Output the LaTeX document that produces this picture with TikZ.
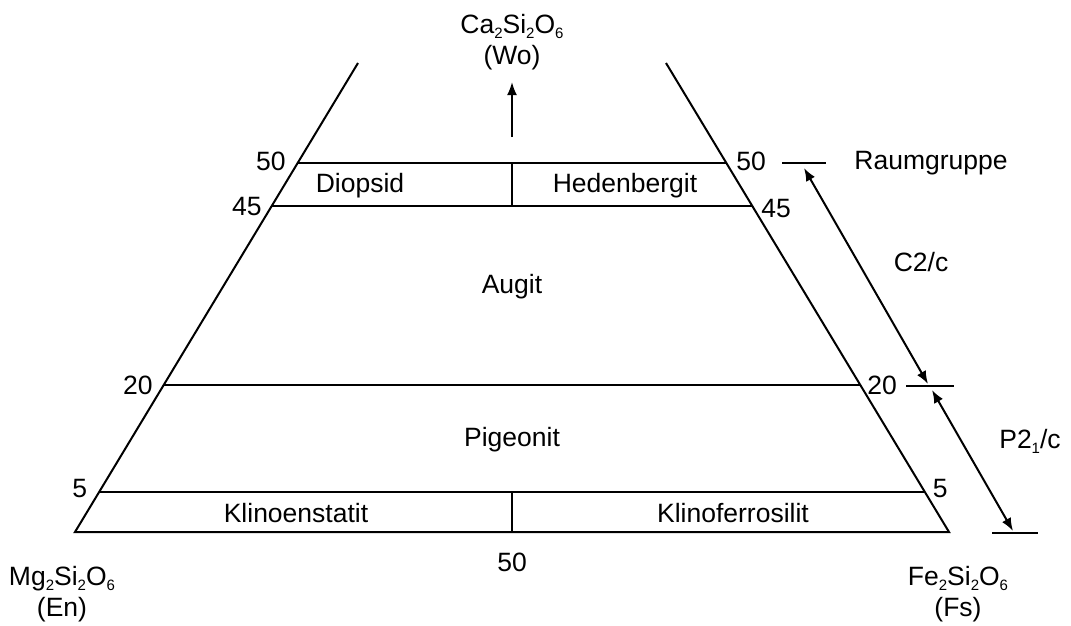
\documentclass[tikz,border=0pt]{standalone}
\usepackage{fontspec}
\setmainfont{Liberation Sans}
\usetikzlibrary{calc,arrows.meta}
\newcommand\chemsub[1]{\raisebox{-0.35ex}{\fontsize{15}{15}\selectfont#1}}
\begin{document}
\begin{tikzpicture}[x=1pt,y=-1pt,line width=2pt,
    every node/.style={font=\fontsize{26.5}{31}\selectfont,inner sep=0pt},
    region/.style={anchor=center},
    dimarrow/.style={{Latex[length=13pt,width=10pt]}-{Latex[length=13pt,width=10pt]}}]
  \useasboundingbox (0,0) rectangle (1071,626);
  % trapezoid
  \coordinate (bl) at (75,532);
  \coordinate (br) at (949,532);
  \coordinate (tl) at (358,63);
  \coordinate (tr) at (666,63);
  \draw (tl) -- (bl) -- (br) -- (tr);
  % composition lines
  \foreach \name/\t in {l50/0.787,l45/0.695,l20/0.3134,l5/0.0853} {
    \coordinate (\name w) at ($(bl)!\t!(tl)$);
    \coordinate (\name e) at ($(br)!\t!(tr)$);
    \draw (\name w) -- (\name e);
  }
  \node[anchor=east] (n50w) at ($(l50w)+(-11,-2)$) {50};
  \node[anchor=east] (n45w) at ($(l45w)+(-9,0)$) {45};
  \node[anchor=east] (n20w) at ($(l20w)+(-10,0)$) {20};
  \node[anchor=east] (n5w) at ($(l5w)+(-11,-3)$) {5};
  \node[anchor=west] (n50e) at ($(l50e)+(9,-2)$) {50};
  \node[anchor=west] (n45e) at ($(l45e)+(8,2)$) {45};
  \node[anchor=west] (n20e) at ($(l20e)+(6,0)$) {20};
  \node[anchor=west] (n5e) at ($(l5e)+(7,-3)$) {5};
  % dividers
  \coordinate (mid) at (512,532);
  \draw (l50w -| mid) -- (l45w -| mid);
  \draw (l5w -| mid) -- (mid);
  \node (n50s) at (512,562) {50};
  % end members
  \node[align=center] (wo) at (512,42) {Ca\chemsub{2}Si\chemsub{2}O\chemsub{6}\\(Wo)};
  \node[align=center] (en) at (62,594) {Mg\chemsub{2}Si\chemsub{2}O\chemsub{6}\\(En)};
  \node[align=center] (fs) at (958,594) {Fe\chemsub{2}Si\chemsub{2}O\chemsub{6}\\(Fs)};
  \coordinate (upa) at (512,137);
  \coordinate (upb) at (512,82);
  \draw[-{Latex[length=13pt,width=10pt]}] (upa) -- (upb);
  % fields
  \node[region] (diopsid) at (360,186) {Diopsid};
  \node[region] (hedenbergit) at (625,186) {Hedenbergit};
  \node[region] (augit) at (512,287) {Augit};
  \node[region] (pigeonit) at (512,440) {Pigeonit};
  \node[region] (klinoenstatit) at (296,513) {Klinoenstatit};
  \node[region] (klinoferrosilit) at (733,513) {Klinoferrosilit};
  % space groups
  \coordinate (t50a) at (782,163);
  \coordinate (t50b) at (826,163);
  \coordinate (t20a) at (906,386);
  \coordinate (t20b) at (954,386);
  \coordinate (t0a) at (992,533);
  \coordinate (t0b) at (1038,533);
  \draw (t50a) -- (t50b);
  \draw (t20a) -- (t20b);
  \draw (t0a) -- (t0b);
  \coordinate (c2a) at (804,168);
  \coordinate (c2b) at (928,384);
  \coordinate (p2a) at (932,390);
  \coordinate (p2b) at (1013,531);
  \draw[dimarrow] (c2a) -- (c2b);
  \draw[dimarrow] (p2a) -- (p2b);
  \node (raum) at (931,163) {Raumgruppe};
  \node (c2c) at (921,262) {C2/c};
  \node (p21c) at (1030,441) {P2\chemsub{1}/c};
\end{tikzpicture}
\end{document}
